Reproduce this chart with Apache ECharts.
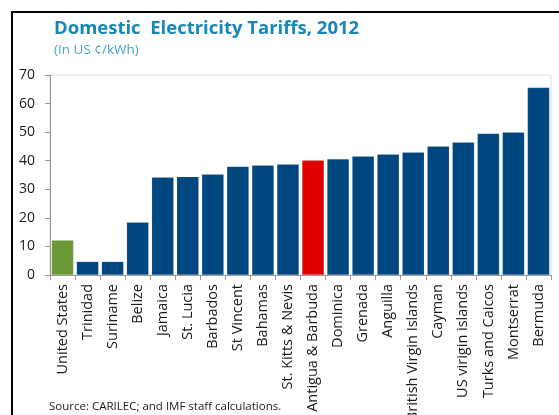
<!DOCTYPE html>
<html>
<head>
<meta charset="utf-8">
<script src="https://cdn.jsdelivr.net/npm/echarts@6/dist/echarts.min.js"></script>
<style>
  html, body { margin: 0; padding: 0; background: #fff; }
  #chart { width: 559px; height: 415px; }
</style>
</head>
<body>
<div id="chart"></div>
<script>
// Countries, ordered by tariff
const countries = [
  'United States', 'Trinidad', 'Suriname', 'Belize', 'Jamaica', 'St. Lucia',
  'Barbados', 'St Vincent', 'Bahamas', 'St. Kitts & Nevis', 'Antigua & Barbuda',
  'Dominica', 'Grenada', 'Anguilla', 'British Virgin Islands', 'Cayman',
  'US virigin islands', 'Turks and Caicos', 'Montserrat', 'Bermuda'
];
// Domestic tariff, US cents per kWh
const tariffs = [
  12.2, 4.7, 4.7, 18.5, 34.2, 34.4, 35.3, 38.0, 38.4, 38.8, 40.2,
  40.6, 41.6, 42.3, 43.0, 45.1, 46.5, 49.5, 50.0, 65.6
];
const yTicks = [0, 10, 20, 30, 40, 50, 60, 70];

const FONT = 'Open Sans';
const highlight = {
  'United States': '#6B9834',
  'Antigua & Barbuda': '#E00000'
};

const chart = echarts.init(document.getElementById('chart'), null, { renderer: 'canvas' });
chart.setOption({
  animation: false,
  textStyle: { fontFamily: FONT },
  grid: {
    left: 50, right: 8, top: 75, bottom: 140,
    containLabel: false, outerBoundsMode: 'none',
    show: true, borderColor: '#dcdcdc', borderWidth: 1
  },
  xAxis: {
    type: 'category',
    data: countries,
    axisLine: { lineStyle: { color: '#999', width: 1 } },
    axisTick: { show: true, alignWithLabel: false, length: 5, lineStyle: { color: '#999' } },
    axisLabel: {
      rotate: 90, interval: 0, margin: 9,
      fontFamily: FONT, fontSize: 14.5, color: '#1a1a1a'
    }
  },
  yAxis: {
    type: 'value',
    min: yTicks[0], max: yTicks[yTicks.length - 1], interval: 10,
    axisLine: { show: true, lineStyle: { color: '#999', width: 1 } },
    axisTick: { show: true, length: 5, lineStyle: { color: '#999' } },
    splitLine: { show: false },
    axisLabel: { margin: 15, fontFamily: FONT, fontSize: 14, color: '#1a1a1a' }
  },
  series: [{
    type: 'bar',
    data: tariffs.map((v, i) => ({
      value: v,
      itemStyle: { color: highlight[countries[i]] || '#00467F' }
    })),
    barCategoryGap: '12%',
    itemStyle: { borderColor: 'rgba(255,255,255,0.25)', borderWidth: 0.5 }
  }],
  graphic: [
    // frame lines
    { type: 'line', shape: { x1: 11, y1: 12, x2: 559, y2: 12 }, style: { stroke: '#000', lineWidth: 2 } },
    { type: 'line', shape: { x1: 12, y1: 11, x2: 12, y2: 415 }, style: { stroke: '#000', lineWidth: 2 } },
    {
      type: 'text', left: 54, top: 19,
      style: {
        text: 'Domestic  Electricity Tariffs, 2012',
        font: 'bold 18.5px "' + FONT + '"', fill: '#1786B8'
      }
    },
    {
      type: 'text', left: 54, top: 43,
      style: { text: '(In US \u00A2/kWh)', font: '13.5px "' + FONT + '"', fill: '#4AA2D2' }
    },
    {
      type: 'text', left: 49, top: 401,
      style: { text: 'Source: CARILEC; and IMF staff calculations.', font: '11.5px "' + FONT + '"', fill: '#1a1a1a' }
    }
  ]
});
</script>
</body>
</html>
